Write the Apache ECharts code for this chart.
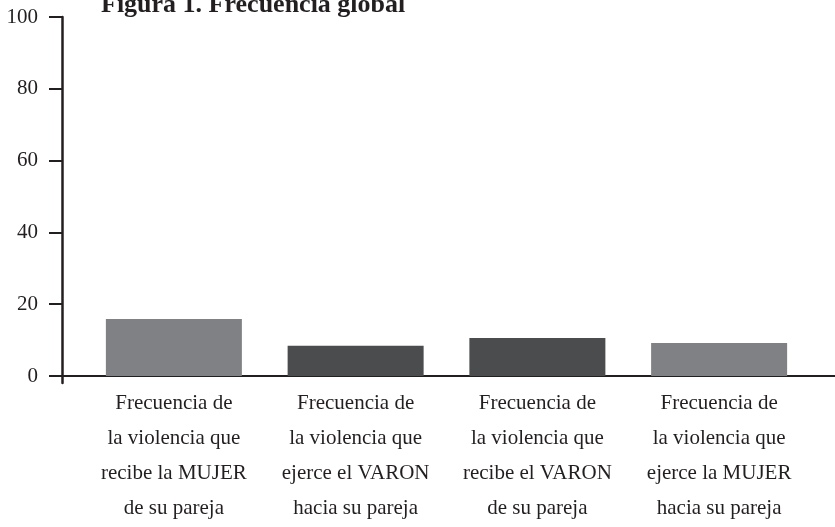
<!DOCTYPE html>
<html>
<head>
<meta charset="utf-8">
<script src="https://cdn.jsdelivr.net/npm/echarts@6/dist/echarts.min.js"></script>
<style>html,body{margin:0;padding:0;background:#fff;}#c{width:835px;height:527px;}</style>
</head>
<body>
<div id="c"></div>
<script>
const titleText = "Figura 1. Frecuencia global";
const categories = [
  "Frecuencia de\nla violencia que\nrecibe la MUJER\nde su pareja",
  "Frecuencia de\nla violencia que\nejerce el VARON\nhacia su pareja",
  "Frecuencia de\nla violencia que\nrecibe el VARON\nde su pareja",
  "Frecuencia de\nla violencia que\nejerce la MUJER\nhacia su pareja"
];
const values = [15.9, 8.4, 10.6, 9.2];
const barColors = ["#808184", "#4b4c4e", "#4b4c4e", "#808184"];
const yMin = 0, yMax = 100, yStep = 20;

const font = "Liberation Serif";
const ink = '#231f20';
const chart = echarts.init(document.getElementById('c'));
chart.setOption({
  animation: false,
  title: {
    text: titleText, left: 96, top: -13,
    textStyle: { fontFamily: font, fontWeight: 'bold', fontSize: 26, color: ink }
  },
  grid: [
    { left: 83, right: 25, top: 17, bottom: 151 },
    { left: 62, right: 0, top: 17, bottom: 151 },
    { left: 62, right: 0, top: 17, bottom: 144 }
  ],
  xAxis: [
    {
      type: 'category', gridIndex: 0, data: categories,
      axisLine: { show: false }, axisTick: { show: false },
      axisLabel: { fontFamily: font, fontSize: 21, color: ink, lineHeight: 35, margin: 10, interval: 0 }
    },
    {
      type: 'value', gridIndex: 1, min: 0, max: 1,
      axisLine: { show: true, lineStyle: { color: ink, width: 2 } },
      axisTick: { show: false }, axisLabel: { show: false }, splitLine: { show: false }
    },
    {
      type: 'value', gridIndex: 2, min: 0, max: 1, show: false
    }
  ],
  yAxis: [
    {
      type: 'value', gridIndex: 0, min: yMin, max: yMax, interval: yStep, offset: 21,
      axisLine: { show: false },
      axisTick: { show: true, length: 13, lineStyle: { color: ink, width: 2 } },
      axisLabel: { fontFamily: font, fontSize: 21, color: ink, margin: 24 },
      splitLine: { show: false }
    },
    {
      type: 'value', gridIndex: 1, show: false, min: 0, max: 1
    },
    {
      type: 'value', gridIndex: 2, min: 0, max: 1,
      axisLine: { show: true, lineStyle: { color: ink, width: 2.5 } },
      axisTick: { show: false }, axisLabel: { show: false }, splitLine: { show: false }
    }
  ],
  series: [{
    type: 'bar', xAxisIndex: 0, yAxisIndex: 0, barWidth: 136,
    data: values.map((v, i) => ({ value: v, itemStyle: { color: barColors[i] } }))
  }]
});
</script>
</body>
</html>
